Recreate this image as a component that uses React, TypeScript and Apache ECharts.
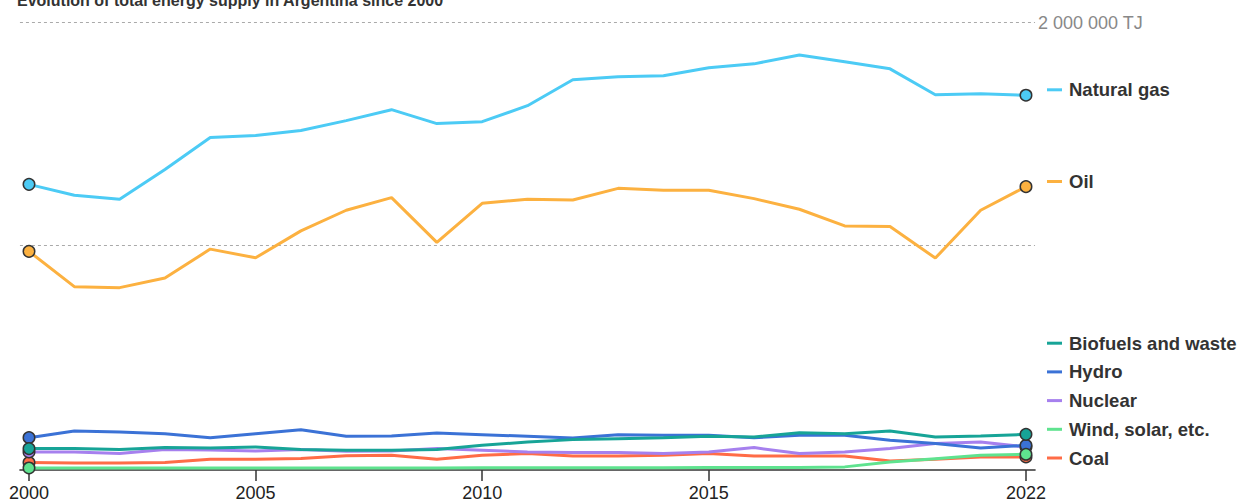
import React, { useEffect, useRef } from "react";
import * as echarts from "echarts";

const years = [2000, 2001, 2002, 2003, 2004, 2005, 2006, 2007, 2008, 2009, 2010, 2011, 2012, 2013, 2014, 2015, 2016, 2017, 2018, 2019, 2020, 2021, 2022];
const tickYears = [2000, 2005, 2010, 2015, 2022];

const naturalGas = [1273700, 1224500, 1206600, 1340700, 1483700, 1492600, 1515000, 1559700, 1608800, 1546300, 1555200, 1626700, 1742900, 1756300, 1760800, 1796500, 1814400, 1854600, 1823400, 1792100, 1675900, 1680300, 1673600];
const oil = [972900, 814700, 810200, 853600, 983200, 944300, 1065000, 1157500, 1214200, 1013100, 1188800, 1206600, 1203500, 1255800, 1246900, 1246900, 1209800, 1161900, 1087300, 1084600, 943000, 1157500, 1263400];
const biofuels = [88000, 88000, 83600, 92500, 90700, 95200, 83600, 80400, 80400, 83600, 102800, 117500, 128300, 132700, 137200, 143000, 139900, 159500, 155100, 166700, 139900, 144300, 152000];
const hydro = [137200, 166700, 162200, 155100, 137200, 155100, 172900, 143000, 144300, 157800, 150600, 143000, 135400, 150600, 147500, 147500, 137200, 147500, 147500, 125100, 110400, 90700, 102800];
const nuclear = [72800, 72800, 65700, 83600, 81800, 77300, 83600, 76000, 77300, 88000, 80400, 72800, 70200, 70200, 65700, 72800, 92500, 65700, 72800, 88000, 110400, 117500, 95200];
const windSolar = [1000, 1000, 1000, 1000, 1000, 1000, 1000, 1000, 1000, 1000, 2000, 2000, 2000, 2000, 2000, 3000, 3000, 3000, 6000, 28000, 43000, 58000, 62600];
const coal = [25500, 23700, 23700, 25500, 40200, 40200, 43300, 55900, 58100, 40200, 58100, 65700, 55000, 55000, 58100, 65700, 55000, 55000, 55000, 32600, 40200, 50500, 50500];

const gridLines = [1000000, 2000000];
const topGridLabel = "2 000 000 TJ";
const titleText = "Evolution of total energy supply in Argentina since 2000";

const seriesDefs = [
  { name: "Natural gas", data: naturalGas, color: "#4ccbf5" },
  { name: "Oil", data: oil, color: "#fcb140" },
  { name: "Coal", data: coal, color: "#ff6c47" },
  { name: "Nuclear", data: nuclear, color: "#a680ee" },
  { name: "Hydro", data: hydro, color: "#3b72d6" },
  { name: "Biofuels and waste", data: biofuels, color: "#17a497" },
  { name: "Wind, solar, etc.", data: windSolar, color: "#5fe38f" },
];

const FONT = "'Liberation Sans', Arial, Helvetica, sans-serif";

export default function App() {
  const ref = useRef<HTMLDivElement>(null);

  useEffect(() => {
    if (!ref.current) return;
    const chart = echarts.init(ref.current, null, { renderer: "svg" });
    const last = years.length - 1;

    const series: any[] = seriesDefs.map((s, idx) => ({
      name: s.name,
      type: "line",
      data: years.map((y, i) => ({
        value: [y, s.data[i]],
        symbol: i === 0 || i === last ? "circle" : "none",
      })),
      symbolSize: 11.5,
      showSymbol: true,
      showAllSymbol: true,
      lineStyle: { width: 3, color: s.color },
      itemStyle: { color: s.color, borderColor: "#333", borderWidth: 1.5 },
      emphasis: { disabled: true },
      z: 2 + idx,
      markLine:
        idx === 0
          ? {
              silent: true,
              symbol: ["none", "none"],
              lineStyle: { color: "#aaa", type: [3, 3], width: 1 },
              label: { show: false },
              data: gridLines.map((v) => ({
                yAxis: v,
                label:
                  v === 2000000
                    ? {
                        show: true,
                        position: "end",
                        distance: 3,
                        formatter: topGridLabel,
                        color: "#888",
                        fontSize: 18,
                        fontFamily: FONT,
                      }
                    : { show: false },
              })),
              z: 1,
            }
          : undefined,
    }));

    const colorOf = (n: string) => seriesDefs.find((s) => s.name === n)!.color;
    const legendBase = {
      orient: "vertical",
      left: 1047,
      padding: 0,
      icon: "rect",
      itemWidth: 15,
      itemHeight: 3,
      itemGap: 9.7,
      selectedMode: false,
      itemStyle: { borderWidth: 0 },
      textStyle: {
        fontSize: 18.5,
        fontWeight: "bold",
        color: "#333",
        fontFamily: FONT,
        lineHeight: 18,
        padding: [0, 0, 0, 2],
      },
    };

    chart.setOption({
      animation: false,
      backgroundColor: "#fff",
      title: {
        text: titleText,
        left: 17,
        top: -8,
        padding: 0,
        textStyle: { fontSize: 16, fontWeight: "bold", color: "#333", fontFamily: FONT },
      },
      grid: { left: 19.94, right: 208.96, top: 22.5, bottom: 30.2 },
      xAxis: {
        type: "value",
        min: 1999.8,
        max: 2022.2,
        splitLine: { show: false },
        axisLine: { show: true, onZero: false, lineStyle: { color: "#333", width: 1.5 } },
        axisTick: { show: true, customValues: tickYears, length: 11, lineStyle: { color: "#333", width: 1.5 } },
        axisLabel: {
          customValues: tickYears,
          formatter: (v: number) => String(v),
          fontSize: 18,
          color: "#222",
          fontFamily: FONT,
          margin: 14,
        },
      },
      yAxis: {
        type: "value",
        min: -8000,
        max: 2000000,
        show: true,
        axisLine: { show: false },
        axisTick: { show: false },
        axisLabel: { show: false },
        splitLine: { show: false },
      },
      legend: [
        { ...legendBase, top: 80.3, data: [{ name: "Natural gas", itemStyle: { color: colorOf("Natural gas"), borderWidth: 0 } }] },
        { ...legendBase, top: 172, data: [{ name: "Oil", itemStyle: { color: colorOf("Oil"), borderWidth: 0 } }] },
        {
          ...legendBase,
          top: 333.7,
          data: ["Biofuels and waste", "Hydro", "Nuclear", "Wind, solar, etc.", "Coal"].map((n) => ({
            name: n,
            itemStyle: { color: colorOf(n), borderWidth: 0 },
          })),
        },
      ],
      series,
    });

    return () => chart.dispose();
  }, []);

  return (
    <div
      ref={ref}
      style={{ position: "fixed", left: 0, top: 0, width: 1244, height: 502, background: "#fff" }}
    />
  );
}
